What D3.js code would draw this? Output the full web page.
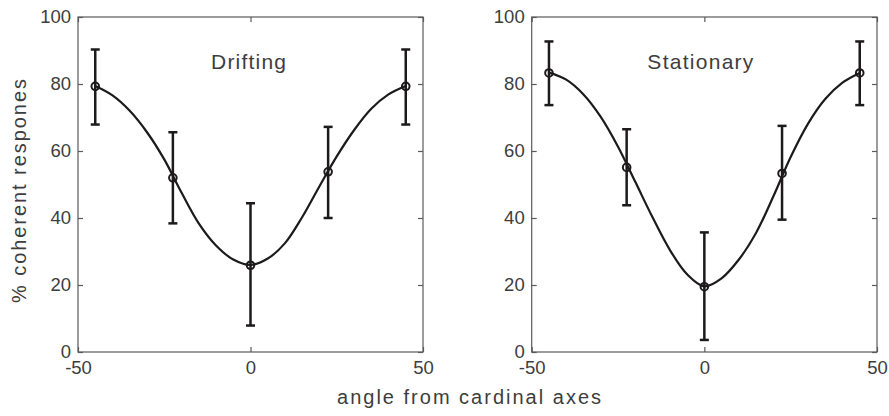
<!DOCTYPE html>
<html>
<head>
<meta charset="utf-8">
<script src="https://cdn.jsdelivr.net/npm/d3@7"></script>
<style>
  html, body { margin: 0; padding: 0; background: #fff; }
  svg { display: block; }
  text { font-family: "Liberation Sans", Arial, Helvetica, sans-serif; fill: #3d3d3d; }
</style>
</head>
<body>
<svg id="chart" width="889" height="416"></svg>
<script>
// ---- data ----
const panelTitles = ["Drifting", "Stationary"];
const angles = [-45, -22.5, 0, 22.5, 45];

const driftMean  = [79.3, 52.0, 25.9, 53.8, 79.3];
const driftUpper = [90.3, 65.6, 44.4, 67.2, 90.3];
const driftLower = [67.9, 38.4, 7.9, 40.0, 67.9];

const statMean  = [83.3, 55.1, 19.5, 53.3, 83.3];
const statUpper = [92.7, 66.5, 35.7, 67.5, 92.7];
const statLower = [73.7, 43.8, 3.6, 39.5, 73.7];

const fitAngles = [-45, -40, -35, -30, -25, -20, -15, -10, -5, 0, 5, 10, 15, 20, 25, 30, 35, 40, 45];
const driftFit  = [79.4, 76.6, 72.0, 65.6, 57.5, 47.6, 38.4, 31.8, 27.6, 26.0, 27.9, 32.5, 40.3, 49.5, 58.4, 66.2, 72.6, 76.9, 79.4];
const statFit   = [83.4, 81.3, 76.9, 70.2, 61.3, 50.8, 40.2, 30.5, 23.2, 19.6, 22.0, 27.6, 35.6, 46.5, 58.2, 68.1, 75.5, 80.4, 83.3];

const xTicks = [-50, 0, 50];
const yTicks = [0, 20, 40, 60, 80, 100];
const xLabel = "angle from cardinal axes";
const yLabel = "% coherent respones";

// ---- layout ----
const svg = d3.select("#chart");
const plotTop = 17, plotBottom = 352;
const panels = [
  { left: 78, right: 423, title: panelTitles[0], mean: driftMean, up: driftUpper, lo: driftLower, fit: driftFit },
  { left: 531.7, right: 877, title: panelTitles[1], mean: statMean, up: statUpper, lo: statLower, fit: statFit }
];
const ink = "#1c1a1a";
const axisCol = "#5a5a5a";
const fmt = d => String(d);

panels.forEach((p, pi) => {
  const x = d3.scaleLinear().domain([-50, 50]).range([p.left, p.right]);
  const y = d3.scaleLinear().domain([0, 100]).range([plotBottom, plotTop]);
  const g = svg.append("g");

  // box
  g.append("rect")
    .attr("x", p.left).attr("y", plotTop)
    .attr("width", p.right - p.left).attr("height", plotBottom - plotTop)
    .attr("fill", "none").attr("stroke", axisCol).attr("stroke-width", 1.2);

  // axes with inward ticks
  const tl = 5;
  const gx = g.append("g").attr("transform", `translate(0,${plotBottom})`)
    .call(d3.axisBottom(x).tickValues(xTicks).tickSizeInner(-tl).tickSizeOuter(0).tickPadding(9).tickFormat(fmt));
  const gxt = g.append("g").attr("transform", `translate(0,${plotTop})`)
    .call(d3.axisTop(x).tickValues(xTicks).tickSizeInner(-tl).tickSizeOuter(0).tickFormat(""));
  const gy = g.append("g").attr("transform", `translate(${p.left},0)`)
    .call(d3.axisLeft(y).tickValues(yTicks).tickSizeInner(-tl).tickSizeOuter(0).tickPadding(7).tickFormat(fmt));
  const gyr = g.append("g").attr("transform", `translate(${p.right},0)`)
    .call(d3.axisRight(y).tickValues(yTicks).tickSizeInner(-tl).tickSizeOuter(0).tickFormat(""));
  [gx, gxt, gy, gyr].forEach(a => {
    a.select(".domain").remove();
    a.selectAll(".tick line").attr("stroke", axisCol).attr("stroke-width", 1.2);
    a.selectAll(".tick text")
      .style("font-family", '"Liberation Sans", Arial, sans-serif')
      .style("font-size", "18.5px").attr("fill", "#3d3d3d");
  });
  gx.selectAll(".tick text").attr("dy", "0.71em");

  // fitted curve
  const line = d3.line().x((d, i) => x(fitAngles[i])).y(d => y(d)).curve(d3.curveCatmullRom.alpha(0.5));
  g.append("path").datum(p.fit).attr("d", line)
    .attr("fill", "none").attr("stroke", ink).attr("stroke-width", 2.2);

  // error bars
  const cap = 4.5;
  const eb = g.append("g").selectAll("g").data(angles).join("g");
  eb.append("line")
    .attr("x1", d => x(d)).attr("x2", d => x(d))
    .attr("y1", (d, i) => y(p.up[i])).attr("y2", (d, i) => y(p.lo[i]))
    .attr("stroke", ink).attr("stroke-width", 2.5);
  eb.append("line")
    .attr("x1", d => x(d) - cap).attr("x2", d => x(d) + cap)
    .attr("y1", (d, i) => y(p.up[i])).attr("y2", (d, i) => y(p.up[i]))
    .attr("stroke", ink).attr("stroke-width", 2.5);
  eb.append("line")
    .attr("x1", d => x(d) - cap).attr("x2", d => x(d) + cap)
    .attr("y1", (d, i) => y(p.lo[i])).attr("y2", (d, i) => y(p.lo[i]))
    .attr("stroke", ink).attr("stroke-width", 2.5);

  // markers
  g.append("g").selectAll("circle").data(angles).join("circle")
    .attr("cx", d => x(d)).attr("cy", (d, i) => y(p.mean[i]))
    .attr("r", 3.8).attr("fill", "none").attr("stroke", ink).attr("stroke-width", 2);

  // panel title
  const tw = pi === 0 ? 75 : 106;
  g.append("text")
    .attr("x", x(0) - (pi === 0 ? 2 : 4)).attr("y", 69)
    .attr("text-anchor", "middle")
    .attr("textLength", tw).attr("lengthAdjust", "spacing")
    .style("font-size", "21px")
    .text(p.title);
});

// shared axis labels
svg.append("text")
  .attr("x", 469).attr("y", 404)
  .attr("text-anchor", "middle")
  .attr("textLength", 264).attr("lengthAdjust", "spacing")
  .style("font-size", "20px")
  .text(xLabel);

svg.append("text")
  .attr("transform", "translate(26,191) rotate(-90)")
  .attr("text-anchor", "middle")
  .attr("textLength", 224).attr("lengthAdjust", "spacing")
  .style("font-size", "20px")
  .text(yLabel);
</script>
</body>
</html>
